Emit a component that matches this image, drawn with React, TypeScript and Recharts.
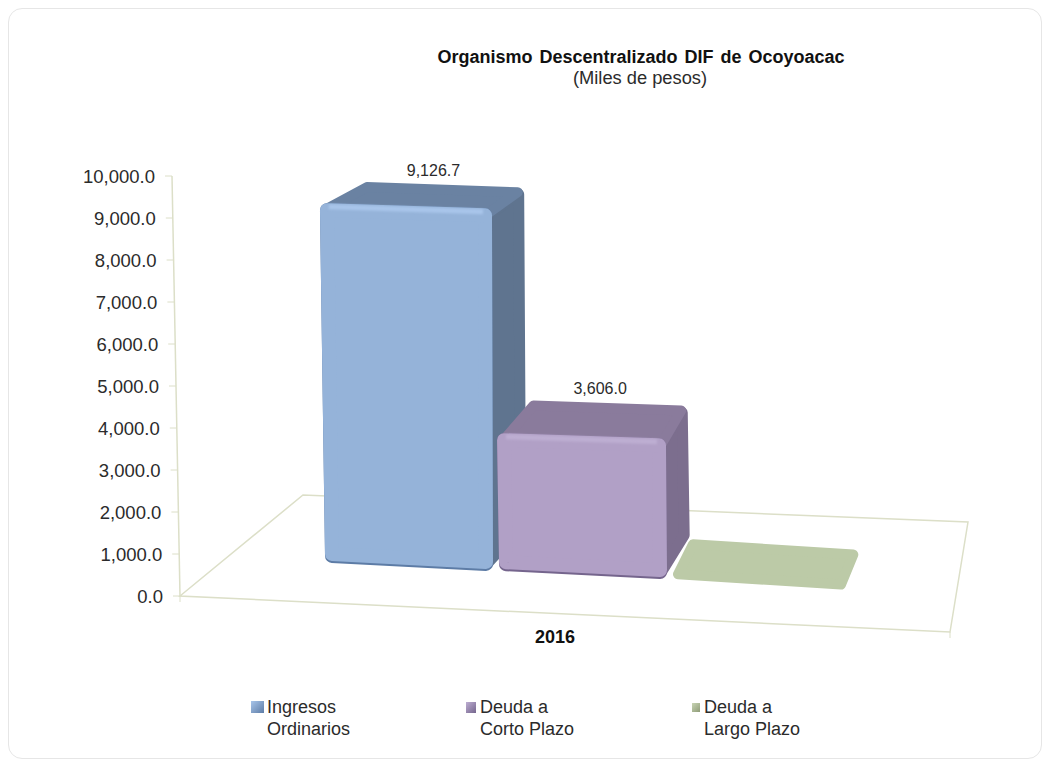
import { BarChart, Bar, XAxis, YAxis, Legend, LabelList } from "recharts";

const YEARS = ["2016"];
const INGRESOS = [9126.7];
const CORTO_PLAZO = [3606.0];
const LARGO_PLAZO = [0];
const Y_TICKS = [0, 1000, 2000, 3000, 4000, 5000, 6000, 7000, 8000, 9000, 10000];
const NAMES = ["Ingresos\nOrdinarios", "Deuda a\nCorto Plazo", "Deuda a\nLargo Plazo"];

const data = YEARS.map((year, i) => ({
  year,
  ingresos: INGRESOS[i],
  corto: CORTO_PLAZO[i],
  largo: LARGO_PLAZO[i],
}));

const FONT = '"Liberation Sans", Arial, sans-serif';
const TEXT = "#2b2b2b";
const LINE = "#dcdfc8";
const LEGEND_X = [251, 466, 692];
const SWATCH = [[13, 12, 3], [10, 11, 4], [8, 9, 4]]; // w, h, gap

// colours per bar: front, side, top, highlight, shade
const PALETTE: Record<string, string[]> = {
  "#95b3d7": ["#95b3d9", "#5f748f", "#6a82a2", "#a8c5ea", "#5d7ca6"],
  "#b2a1c7": ["#b1a0c6", "#7c6e8e", "#8a7b9c", "#bdaed2", "#75658d"],
  "#bccaa7": ["#bccaa7", "#bccaa7", "#bccaa7", "#c8d4b4", "#8f9c78"],
};

// fake perspective of the original 3D chart
const baseY = (px: number) => 563 + (px - 325) * 0.047;
const depthX = (px: number) => 43 - (px - 320) * 0.06;
const depthY = (h: number) => -40 + h * 0.0526;
const axisX = (y: number) => 172 + ((y - 176) * 8) / 420;
// front face height is a bit smaller than the wall scale
const liftOf = (height: number) => (height > 0 ? height * 0.957 - 7 : 0);

const pts = (p: number[][]) => p.map((q) => q.join(",")).join(" ");

const Bar3D = (props: any) => {
  const { x, width, height, fill } = props;
  const [front, side, top, light, shade] = PALETTE[fill];
  const flat = height <= 0;
  const lift = liftOf(height);

  if (flat) {
    const bl = x + 2;
    const br = x + width + 6;
    const d = depthY(0);
    const yl = baseY(bl);
    const yr = baseY(br) + 2;
    return (
      <polygon
        points={pts([
          [bl + 8, yl - 5],
          [br - 7, yr - 5],
          [br + depthX(br) - 6, yr + d + 5],
          [bl + depthX(bl) + 1, yl + d + 5],
        ])}
        fill={front}
        stroke={front}
        strokeWidth={10}
        strokeLinejoin="round"
      />
    );
  }

  const bl = x + 5;
  const br = x + width - 1;
  const tl = bl - lift * 0.014;
  const tr = br - 1;
  const yl = baseY(bl) - lift;
  const yr = yl + (tr - tl) * 0.03;
  const ybl = baseY(bl);
  const ybr = baseY(br);
  const dy = depthY(lift);
  const backL = [tl + depthX(tl), yl + dy];
  const backR = [tr + depthX(tr), yr + dy];
  const backB = [br + depthX(br), ybr + depthY(0)];
  return (
    <g>
      <polygon
        points={pts([[tr - 6, yr + 8], [backR[0] - 6, backR[1] + 7], [backB[0] - 5, backB[1] - 4], [br - 5, ybr - 8]])}
        fill={side}
        stroke={side}
        strokeWidth={11}
        strokeLinejoin="round"
      />
      <polygon
        points={pts([[tl + 8, yl + 5], [backL[0] + 4, backL[1] + 5], [backR[0] - 7, backR[1] + 5], [tr - 4, yr + 5]])}
        fill={top}
        stroke={top}
        strokeWidth={10}
        strokeLinejoin="round"
      />
      <polygon
        points={pts([[tl + 7, yl + 7], [tr - 7, yr + 7], [br - 7, ybr - 7], [bl + 7, ybl - 7]])}
        fill={shade}
        stroke={shade}
        strokeWidth={14}
        strokeLinejoin="round"
      />
      <polygon
        points={pts([[tl + 7, yl + 7], [tr - 7, yr + 7], [br - 7, ybr - 9], [bl + 7, ybl - 9]])}
        fill={front}
        stroke={front}
        strokeWidth={14}
        strokeLinejoin="round"
      />
      <line x1={tl + 9} y1={yl + 3.5} x2={tr - 9} y2={yr + 3.5} stroke={light} strokeWidth={5} filter="url(#soft)" />
    </g>
  );
};

const BarValue = (props: any) => {
  const { x, width, height, value } = props;
  const cx = x + width / 2;
  const lift = liftOf(height);
  return (
    <text
      x={cx + depthX(cx) * 0.7}
      y={baseY(cx) - lift + depthY(lift) - 10}
      textAnchor="middle"
      fontFamily={FONT}
      fontSize={16}
      fill={TEXT}
    >
      {Number(value).toLocaleString("en-US", { minimumFractionDigits: 1 })}
    </text>
  );
};

const ValueTick = (props: any) => {
  const { y, payload } = props;
  const ax = axisX(y);
  return (
    <g>
      <line x1={ax - 7} y1={y} x2={ax} y2={y} stroke={LINE} />
      <text x={ax - 17} y={y + 6.5} textAnchor="end" fontFamily={FONT} fontSize={18.5} fill={TEXT}>
        {payload.value.toLocaleString("en-US", { minimumFractionDigits: 1 })}
      </text>
    </g>
  );
};

const YearTick = (props: any) => (
  <text x={props.x - 26} y={643} textAnchor="middle" fontFamily={FONT} fontSize={18} fontWeight="bold" fill="#111">
    {props.payload.value}
  </text>
);

const Backdrop = () => (
  <g>
    <defs>
      <filter id="soft" x="-5%" y="-200%" width="110%" height="500%">
        <feGaussianBlur stdDeviation="1.2" />
      </filter>
    </defs>
    <polygon points="180,596 303,495 968,522 950,632" fill="none" stroke={LINE} strokeWidth={1.5} />
    <line x1={172} y1={176} x2={180} y2={596} stroke={LINE} strokeWidth={1.5} />
    <line x1={180} y1={596} x2={180} y2={602} stroke={LINE} />
    <line x1={950} y1={632} x2={950} y2={638} stroke={LINE} />
    <text x={641} y={63} textAnchor="middle" fontFamily={FONT} fontSize={18} fontWeight="bold" wordSpacing={2} fill="#111">
      Organismo Descentralizado DIF de Ocoyoacac
    </text>
    <text x={640} y={84} textAnchor="middle" fontFamily={FONT} fontSize={18.3} fill={TEXT}>
      (Miles de pesos)
    </text>
  </g>
);

const LegendBlock = ({ payload }: any) => (
  <div>
    {(payload || []).map((item: any, i: number) => (
      <div
        key={item.value}
        style={{
          position: "absolute",
          left: LEGEND_X[i],
          top: 696,
          display: "flex",
          alignItems: "flex-start",
          fontFamily: FONT,
          fontSize: 18,
          lineHeight: "22px",
          color: TEXT,
          whiteSpace: "pre",
        }}
      >
        <span
          style={{
            width: SWATCH[i][0],
            height: SWATCH[i][1],
            marginTop: 5 + (12 - SWATCH[i][1]) / 2,
            marginRight: SWATCH[i][2],
            background: `linear-gradient(135deg, ${PALETTE[item.color][3]} 0%, ${PALETTE[item.color][4]} 100%)`,
          }}
        />
        <span>{item.value}</span>
      </div>
    ))}
  </div>
);

export default function App() {
  return (
    <div style={{ position: "absolute", left: 0, top: 0, width: 1052, height: 759, background: "#fff" }}>
      <div
        style={{
          position: "absolute",
          left: 8,
          top: 8,
          width: 1032,
          height: 749,
          border: "1px solid #e6e6e6",
          borderRadius: 14,
        }}
      />
      <div style={{ position: "absolute", left: 0, top: 0 }}>
        <BarChart
          width={1052}
          height={759}
          data={data}
          barSize={174}
          barGap={0}
          margin={{ top: 176, right: 70, bottom: 133, left: 80 }}
        >
          <Backdrop />
          <XAxis dataKey="year" height={30} axisLine={false} tickLine={false} tick={<YearTick />} />
          <YAxis width={100} domain={[0, 10000]} ticks={Y_TICKS} axisLine={false} tickLine={false} interval={0} tick={<ValueTick />} />
          <Legend
            verticalAlign="middle"
            align="center"
            itemSorter={null as any}
            content={<LegendBlock />}
            wrapperStyle={{ position: "absolute", left: 0, top: 0, width: 0, height: 0 }}
          />
          <Bar dataKey="ingresos" name={NAMES[0]} fill="#95b3d7" shape={<Bar3D />} isAnimationActive={false}>
            <LabelList dataKey="ingresos" content={<BarValue />} />
          </Bar>
          <Bar dataKey="corto" name={NAMES[1]} fill="#b2a1c7" shape={<Bar3D />} isAnimationActive={false}>
            <LabelList dataKey="corto" content={<BarValue />} />
          </Bar>
          <Bar dataKey="largo" name={NAMES[2]} fill="#bccaa7" shape={<Bar3D />} isAnimationActive={false} />
        </BarChart>
      </div>
    </div>
  );
}
